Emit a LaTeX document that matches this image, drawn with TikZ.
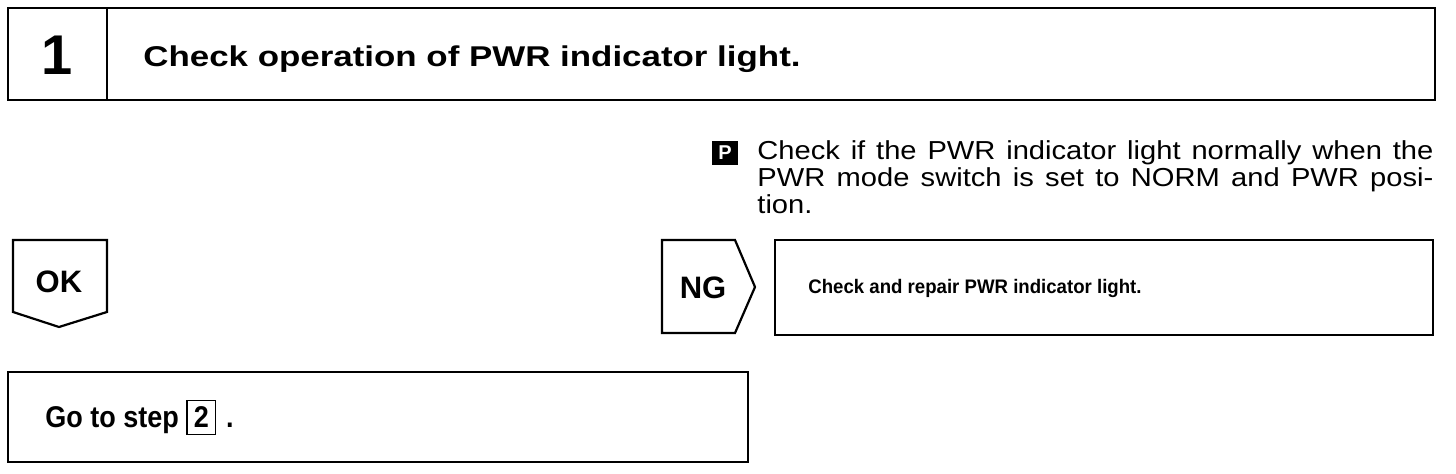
\documentclass[tikz,border=0pt]{standalone}
\usepackage{fontspec}
\setmainfont{Liberation Sans}
\newfontfamily\hdfont[FakeStretch=1.22]{Liberation Sans}
\newfontfamily\parafont[FakeStretch=1.12]{Liberation Sans}
\newfontfamily\smallfont[FakeStretch=0.95]{Liberation Sans}
\newfontfamily\gofont[FakeStretch=0.9]{Liberation Sans}
\begin{document}
\begin{tikzpicture}[x=0.5pt,y=-0.5pt,
  frame/.style={draw=black,line width=1.1pt},
  lbl/.style={inner sep=0pt,text=black}]
\useasboundingbox (0,0) rectangle (1456,474);
% header
\draw[frame] (8,8) rectangle (1435,100);
\draw[frame] (107,8) -- (107,100);
\node[lbl,font=\fontsize{28}{30}\selectfont\bfseries] (num) at (57,55) {1};
\node[lbl,anchor=base west,font=\hdfont\fontsize{14.3}{16}\selectfont\bfseries] (title) at (143,67) {Check operation of PWR indicator light.};
% P icon and instruction
\node[fill=black,text=white,inner sep=0pt,minimum width=13pt,minimum height=12pt,font=\fontsize{10}{10}\selectfont\bfseries] (picon) at (725,153) {P};
\node[lbl,anchor=north west,text width=338pt,align=justify,font=\parafont\fontsize{13}{13.5}\selectfont] (para) at (757,140) {Check if the PWR indicator light normally when the\linebreak PWR mode switch is set to NORM and PWR posi-\linebreak tion.};
% OK
\draw[frame] (13,240) -- (107,240) -- (107,312) -- (59,327) -- (13,312) -- cycle;
\node[lbl,font=\fontsize{15.5}{16}\selectfont\bfseries] (ok) at (59,282) {OK};
% NG
\draw[frame] (662,240) -- (735,240) -- (755,287) -- (735,333) -- (662,333) -- cycle;
\node[lbl,font=\fontsize{15.5}{16}\selectfont\bfseries] (ng) at (703,288) {NG};
\draw[frame] (775,240) rectangle (1433,335);
\node[lbl,anchor=west,font=\smallfont\fontsize{9.8}{11}\selectfont\bfseries] (repair) at (808,288) {Check and repair PWR indicator light.};
% Go to step
\draw[frame] (8,372) rectangle (748,462);
\setlength\fboxrule{0.7pt}\setlength\fboxsep{3pt}
\node[lbl,anchor=base west,font=\gofont\fontsize{15}{16}\selectfont\bfseries] (go) at (45,428) {Go to step \fbox{2}\,\,.};
\end{tikzpicture}
\end{document}
